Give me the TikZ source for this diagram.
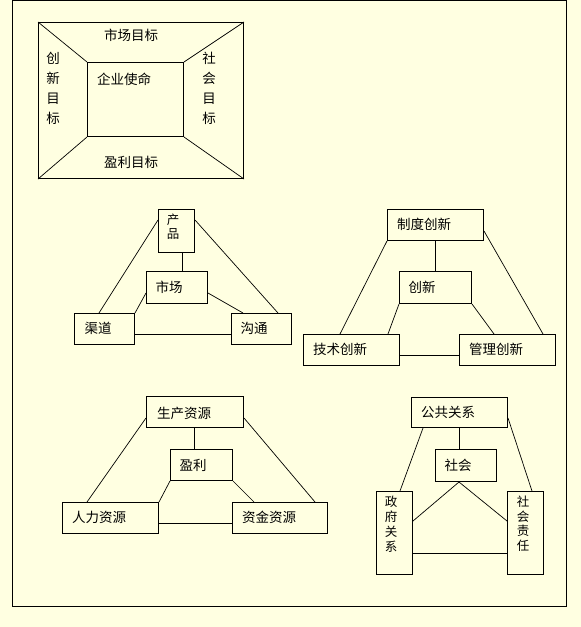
\documentclass[tikz,border=0pt]{standalone}
\usepackage{fontspec}
\newfontfamily\cjk{Noto Sans CJK SC}
\usetikzlibrary{calc}
\definecolor{bgyellow}{RGB}{255,255,225}
\tikzset{
  bx/.style={draw=black, line width=1pt, anchor=north west, inner sep=0pt, minimum width=#1},
  lbl/.style={inner sep=0pt, font=\cjk\fontsize{13.5}{15}\selectfont},
  vlbl/.style={inner sep=0pt, align=center, font=\cjk\fontsize{12.5}{#1}\selectfont},
  ln/.style={line width=0.7pt},
}
\begin{document}
\begin{tikzpicture}[x=1pt,y=-1pt]
\fill[bgyellow] (0,0) rectangle (581,627);
\useasboundingbox (0,0) rectangle (581,627);
\draw[line width=1pt] (12,0.8) rectangle (566,606);

% top figure
\node[bx=205pt, minimum height=156pt] (outer) at (38,22) {};
\node[bx=96pt, minimum height=74pt] (inner) at (87,62) {};
\draw[ln] (outer.north west) -- (inner.north west);
\draw[ln] (outer.north east) -- (inner.north east);
\draw[ln] (outer.south west) -- (inner.south west);
\draw[ln] (outer.south east) -- (inner.south east);
\node[lbl] (t1) at (131,35) {市场目标};
\node[lbl] (t2) at (131,162) {盈利目标};
\node[lbl] (t3) at (124,79) {企业使命};
\node[vlbl=20pt, font=\cjk\fontsize{13.5}{20}\selectfont] (t4) at (53,88) {创\\新\\目\\标};
\node[vlbl=20pt, font=\cjk\fontsize{13.5}{20}\selectfont] (t5) at (209,88) {社\\会\\目\\标};

% figure 2
\node[bx=36pt, minimum height=43pt] (cp) at (158,209) {};
\node[vlbl=13.5pt] (cpt) at (173,226.5) {产\\品};
\node[bx=61pt, minimum height=32pt] (sc) at (146,271) {};
\node[lbl] (sct) at (169,287) {市场};
\node[bx=60pt, minimum height=31pt] (qd) at (74,313) {};
\node[lbl] (qdt) at (98,328) {渠道};
\node[bx=60pt, minimum height=31pt] (gt) at (231,313) {};
\node[lbl] (gtt) at (254,328) {沟通};
\draw[ln] ($(cp.south west)+(24,0)$) -- ($(sc.north west)+(36,0)$);
\draw[ln] ($(cp.north west)+(0,11)$) -- ($(qd.north west)+(25,0)$);
\draw[ln] ($(cp.north east)+(0,11)$) -- ($(gt.north west)+(47,0)$);
\draw[ln] ($(sc.north west)+(0,22)$) -- (qd.north east);
\draw[ln] ($(sc.north east)+(0,22)$) -- ($(gt.north west)+(12,0)$);
\draw[ln] ($(qd.north east)+(0,21)$) -- ($(gt.north west)+(0,21)$);

% figure 3
\node[bx=96pt, minimum height=31pt] (zd) at (387,209) {};
\node[lbl] (zdt) at (424,224) {制度创新};
\node[bx=72pt, minimum height=32pt] (cx) at (399,271) {};
\node[lbl] (cxt) at (422,287) {创新};
\node[bx=96pt, minimum height=31pt] (js) at (303,334) {};
\node[lbl] (jst) at (340,349) {技术创新};
\node[bx=96pt, minimum height=31pt] (gl) at (459,334) {};
\node[lbl] (glt) at (496,349) {管理创新};
\draw[ln] ($(zd.south west)+(48,0)$) -- ($(cx.north west)+(36,0)$);
\draw[ln] (zd.south west) -- ($(js.north west)+(37,0)$);
\draw[ln] ($(zd.north east)+(0,22)$) -- ($(gl.north west)+(84,0)$);
\draw[ln] (cx.south west) -- ($(js.north west)+(85,0)$);
\draw[ln] (cx.south east) -- ($(gl.north west)+(35,0)$);
\draw[ln] ($(js.north east)+(0,21)$) -- ($(gl.north west)+(0,21)$);

% figure 4
\node[bx=97pt, minimum height=31pt] (sz) at (146,396) {};
\node[lbl] (szt) at (184,413) {生产资源};
\node[bx=62pt, minimum height=31pt] (yl) at (170,449) {};
\node[lbl] (ylt) at (193,465) {盈利};
\node[bx=96pt, minimum height=31pt] (rl) at (62,502) {};
\node[lbl] (rlt) at (99,517) {人力资源};
\node[bx=95pt, minimum height=31pt] (zj) at (232,502) {};
\node[lbl] (zjt) at (269,517) {资金资源};
\draw[ln] ($(sz.south west)+(48,0)$) -- ($(yl.north west)+(24,0)$);
\draw[ln] ($(sz.north west)+(0,22)$) -- ($(rl.north west)+(25,0)$);
\draw[ln] ($(sz.north east)+(0,22)$) -- ($(zj.north west)+(83,0)$);
\draw[ln] (yl.south west) -- (rl.north east);
\draw[ln] (yl.south east) -- ($(zj.north west)+(22,0)$);
\draw[ln] ($(rl.north east)+(0,21)$) -- ($(zj.north west)+(0,21)$);

% figure 5
\node[bx=96pt, minimum height=30pt] (gg) at (411,397) {};
\node[lbl] (ggt) at (448,412) {公共关系};
\node[bx=61pt, minimum height=32pt] (sh) at (435,449) {};
\node[lbl] (sht) at (458,465) {社会};
\node[bx=36pt, minimum height=83pt] (zf) at (376,491) {};
\node[vlbl=15pt] (zft) at (391,524.5) {政\\府\\关\\系};
\node[bx=36pt, minimum height=83pt] (zr) at (507,491) {};
\node[vlbl=14.5pt] (zrt) at (523,523.5) {社\\会\\责\\任};
\draw[ln] ($(gg.south west)+(48,0)$) -- ($(sh.north west)+(24,0)$);
\draw[ln] ($(gg.south west)+(12,0)$) -- ($(zf.north west)+(24,0)$);
\draw[ln] ($(gg.north east)+(0,21)$) -- ($(zr.north west)+(25,0)$);
\draw[ln] ($(sh.south west)+(24,0)$) -- ($(zf.north east)+(0,30)$);
\draw[ln] ($(sh.south west)+(24,0)$) -- ($(zr.north west)+(0,30)$);
\draw[ln] ($(zf.north east)+(0,62)$) -- ($(zr.north west)+(0,62)$);
\end{tikzpicture}
\end{document}
